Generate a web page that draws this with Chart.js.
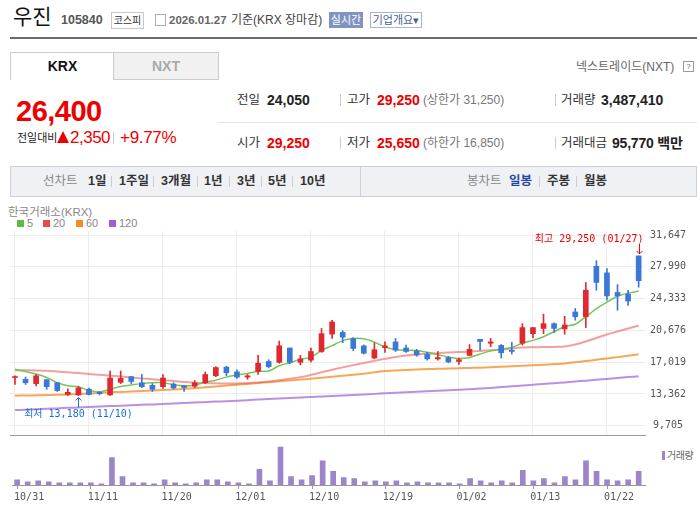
<!DOCTYPE html>
<html lang="ko">
<head>
<meta charset="utf-8">
<script src="https://cdn.jsdelivr.net/npm/chart.js@4.4.1/dist/chart.umd.min.js"></script>
<style>
html,body{margin:0;padding:0;background:#fff;}
body{width:697px;height:505px;position:relative;overflow:hidden;font-family:"Liberation Sans","Noto Sans CJK KR",sans-serif;color:#333;}
.a{position:absolute;white-space:nowrap;}
.lbl{font-size:12.5px;line-height:16px;color:#333;}
.val{font-size:14px;line-height:16px;font-weight:bold;color:#222;}
.red{color:#ee0000;}
.sub{font-size:12px;line-height:16px;color:#777;}
.vs{position:absolute;width:1px;height:12px;background:#ccc;}
.nav{font-size:12.5px;line-height:16px;font-weight:bold;color:#333;top:173px;}
.ns{position:absolute;width:1px;height:11px;background:#ccc;top:176px;}
.lg{font-size:11px;line-height:12px;color:#888;top:217px;}
.sq{position:absolute;width:7px;height:7px;top:220px;}
canvas{position:absolute;left:0;}
</style>
</head>
<body>
<!-- header -->
<div class="a" style="left:13px;top:3px;font-size:21px;line-height:28px;color:#111;">우진</div>
<div class="a" style="left:61px;top:12px;font-size:12.5px;line-height:16px;font-weight:bold;color:#555;">105840</div>
<div class="a" style="left:111px;top:12px;width:31px;height:15px;border:1px solid #c8c8c8;font-size:10px;line-height:15px;text-align:center;color:#333;">코스피</div>
<div class="a" style="left:155px;top:14px;width:9px;height:10px;border:1px solid #b0b0b0;"></div>
<div class="a" style="left:169px;top:12px;font-size:11.5px;line-height:16px;font-weight:bold;color:#666;">2026.01.27</div>
<div class="a" style="left:231px;top:12px;font-size:12px;line-height:16px;color:#444;">기준(KRX 장마감)</div>
<div class="a" style="left:329px;top:12px;width:34px;height:16px;background:#8193c0;color:#fff;font-size:11px;line-height:16px;text-align:center;">실시간</div>
<div class="a" style="left:370px;top:12px;width:50px;height:14px;border:1px solid #a9b5d6;color:#4a5f95;font-size:11px;line-height:14px;text-align:center;">기업개요▾</div>
<div class="a" style="left:10px;top:37px;width:687px;height:2px;background:#6b6b6b;"></div>

<!-- tabs -->
<div class="a" style="left:10px;top:52px;width:103px;height:27px;border:1px solid #ccc;border-bottom:none;font-size:14px;line-height:26px;font-weight:bold;text-align:center;color:#111;">KRX</div>
<div class="a" style="left:113px;top:52px;width:104px;height:26px;border:1px solid #ccc;background:#f1f1f1;font-size:14px;line-height:26px;font-weight:bold;text-align:center;color:#aaa;">NXT</div>
<div class="a" style="left:576px;top:59px;font-size:12px;line-height:16px;color:#666;">넥스트레이드(NXT)</div>
<div class="a" style="left:683px;top:61px;width:9px;height:9px;border:1px solid #999;font-size:8px;line-height:9px;text-align:center;color:#666;">?</div>

<!-- price -->
<div class="a red" style="left:16px;top:95px;font-size:29px;line-height:32px;font-weight:bold;letter-spacing:-0.5px;">26,400</div>
<div class="a" style="left:17px;top:131px;font-size:11px;line-height:14px;color:#222;">전일대비</div>
<div class="a" style="left:57px;top:131px;width:0;height:0;border-left:6.5px solid transparent;border-right:6.5px solid transparent;border-bottom:12px solid #ee0000;"></div>
<div class="a red" style="left:70px;top:128px;font-size:17px;line-height:20px;letter-spacing:-0.5px;">2,350</div>
<div class="vs" style="left:113px;top:132px;"></div>
<div class="a red" style="left:120px;top:128px;font-size:17px;line-height:20px;letter-spacing:-0.3px;">+9.77%</div>

<!-- info grid -->
<div class="a" style="left:218px;top:122px;width:479px;height:1px;background:#e5e5e5;"></div>
<div class="a lbl" style="left:237px;top:92px;">전일</div>
<div class="a val" style="left:267px;top:92px;">24,050</div>
<div class="vs" style="left:340px;top:94px;"></div>
<div class="a lbl" style="left:347px;top:92px;">고가</div>
<div class="a val red" style="left:377px;top:92px;">29,250</div>
<div class="a sub" style="left:423px;top:92px;">(상한가 31,250)</div>
<div class="vs" style="left:555px;top:94px;"></div>
<div class="a lbl" style="left:561px;top:92px;">거래량</div>
<div class="a val" style="left:601px;top:92px;">3,487,410</div>

<div class="a lbl" style="left:237px;top:135px;">시가</div>
<div class="a val red" style="left:267px;top:135px;">29,250</div>
<div class="vs" style="left:340px;top:137px;"></div>
<div class="a lbl" style="left:347px;top:135px;">저가</div>
<div class="a val red" style="left:377px;top:135px;">25,650</div>
<div class="a sub" style="left:423px;top:135px;">(하한가 16,850)</div>
<div class="vs" style="left:555px;top:137px;"></div>
<div class="a lbl" style="left:561px;top:135px;">거래대금</div>
<div class="a val" style="left:612px;top:135px;letter-spacing:-0.2px;">95,770 백만</div>

<!-- period bar -->
<div class="a" style="left:10px;top:166px;width:685px;height:29px;background:#f0f1f5;border:1px solid #cdd0d8;"></div>
<div class="a" style="left:360px;top:167px;width:1px;height:29px;background:#cdd0d8;"></div>
<div class="a nav" style="left:43px;color:#888;font-weight:normal;">선차트</div>
<div class="a nav" style="left:88px;">1일</div><div class="ns" style="left:111px;"></div>
<div class="a nav" style="left:119px;">1주일</div><div class="ns" style="left:153px;"></div>
<div class="a nav" style="left:161px;">3개월</div><div class="ns" style="left:197px;"></div>
<div class="a nav" style="left:204px;">1년</div><div class="ns" style="left:229px;"></div>
<div class="a nav" style="left:237px;">3년</div><div class="ns" style="left:261px;"></div>
<div class="a nav" style="left:268px;">5년</div><div class="ns" style="left:292px;"></div>
<div class="a nav" style="left:300px;">10년</div>
<div class="a nav" style="left:467px;color:#888;font-weight:normal;">봉차트</div>
<div class="a nav" style="left:509px;color:#1f4aa0;">일봉</div><div class="ns" style="left:539px;"></div>
<div class="a nav" style="left:547px;">주봉</div><div class="ns" style="left:576px;"></div>
<div class="a nav" style="left:584px;">월봉</div>

<!-- chart legend -->
<div class="a" style="left:8px;top:206px;font-size:11.5px;line-height:13px;color:#888;">한국거래소(KRX)</div>
<div id="maLegend"></div>
<div class="a" style="left:662px;top:451px;width:3px;height:9px;background:#9c86c9;"></div>
<div class="a" style="left:667px;top:449px;font-size:10px;line-height:13px;color:#666;letter-spacing:-0.5px;">거래량</div>

<canvas id="price" width="697" height="226" style="top:220px;width:697px;height:226px;"></canvas>
<canvas id="vol" width="697" height="65" style="top:440px;width:697px;height:65px;"></canvas>

<script>
// trading days shown on the chart
const dates = ['10/31','11/03','11/04','11/05','11/06','11/07','11/10','11/11','11/12','11/13',
  '11/14','11/17','11/18','11/19','11/20','11/21','11/24','11/25','11/26','11/27',
  '11/28','12/01','12/02','12/03','12/04','12/05','12/08','12/09','12/10','12/11',
  '12/12','12/15','12/16','12/17','12/18','12/19','12/22','12/23','12/24','12/26',
  '12/29','12/30','01/02','01/05','01/06','01/07','01/08','01/09','01/12','01/13',
  '01/14','01/15','01/16','01/19','01/20','01/21','01/22','01/23','01/26','01/27'];

const opens = [15250,15050,14550,15000,14650,13300,13250,13900,13550,13250,
  14700,15350,14650,14350,14200,14500,14300,14250,14650,15450,
  16450,15900,15300,15950,17100,17000,18650,17000,17250,18250,
  20250,20450,19700,18900,17500,18700,19350,18650,18300,17950,
  17400,17550,17100,17800,19650,19200,18950,18400,19200,20300,
  20900,21450,20850,22800,22250,28050,27300,25050,24850,29250];
const highs = [15450,15300,15600,15050,14700,13950,14250,14050,13650,16000,
  16000,15400,15600,14550,15600,14650,14350,14900,15900,16500,
  16550,16150,15600,17800,17300,19450,18650,17800,18650,20900,
  21850,20650,19850,19000,19250,19350,19750,19000,18500,18150,
  18250,17700,17500,19050,19650,19750,19050,19300,21450,21000,
  22550,21550,22300,23200,26200,28700,27800,25950,25300,29250];
const lows = [14450,14450,14300,13900,13650,13200,13180,13250,13250,13200,
  14550,14550,14100,13650,14000,13950,13650,14100,14550,15350,
  15450,15150,15050,15600,16350,16900,16850,16700,17050,18150,
  19750,19250,18350,17950,17400,18150,18250,18150,17700,17250,
  17250,16950,16750,17750,18400,18800,17500,17950,19000,19800,
  20300,20450,20250,21850,21000,25300,24150,23000,23550,25650];
const closes = [15300,14650,15450,14200,13750,13550,14050,13300,13400,15200,
  15150,14800,14200,13900,15200,14050,14100,14650,15600,16400,
  15800,15300,15450,16900,16500,18900,17000,17400,18250,20300,
  21650,19900,18600,18050,18450,18900,18400,18250,17850,17400,
  17550,17050,17300,18500,19400,19350,18100,18250,21000,21000,
  21450,20900,21300,22250,25300,26200,24650,24650,24050,26400];
const volumes = [1340000,800000,1070000,800000,540000,540000,540000,540000,270000,6970000,
  2150000,540000,540000,270000,1340000,540000,270000,540000,1340000,1340000,
  800000,540000,270000,4020000,1070000,9660000,2150000,1340000,2410000,6170000,
  3490000,1880000,1610000,800000,1070000,800000,1070000,540000,800000,540000,
  540000,540000,270000,1610000,1070000,540000,1070000,540000,3760000,1070000,
  1610000,540000,2150000,1340000,6170000,3490000,1340000,1070000,1340000,3487410];

// moving averages
const ma5 = [16200,15950,15650,15250,14670,14310,14200,13760,13610,13900,
  14220,14380,14550,14650,14650,14430,14280,14370,14710,14940,
  15300,15540,15710,15970,16000,16610,16960,17340,17600,18370,
  18920,19500,19740,19710,19330,18780,18470,18400,18360,18150,
  17880,17610,17430,17550,17960,18320,18520,18710,19210,19530,
  19950,20520,21130,21380,22240,23190,23940,24610,24970,25200];
const ma20 = [16100,16090,16070,16030,15950,15850,15760,15660,15560,15470,
  15360,15250,15150,15050,14950,14850,14750,14660,14610,14580,
  14560,14560,14610,14690,14790,14930,15100,15300,15550,15850,
  16150,16420,16680,16930,17170,17400,17620,17780,17900,17990,
  18060,18120,18180,18230,18300,18400,18480,18600,18700,18730,
  18760,18780,18820,19050,19400,19800,20200,20550,20900,21250];
const ma60 = [13160,13180,13200,13230,13260,13300,13360,13420,13480,13550,
  13600,13650,13700,13760,13820,13880,13950,14030,14120,14220,
  14330,14430,14520,14620,14720,14820,14920,15020,15110,15220,
  15340,15460,15580,15700,15850,16000,16070,16130,16180,16220,
  16260,16290,16320,16350,16390,16430,16480,16540,16600,16660,
  16730,16800,16880,17000,17150,17300,17450,17600,17770,17940];
const ma120 = [11500,11550,11600,11650,11700,11760,11810,11860,11910,11960,
  12010,12060,12110,12160,12210,12260,12320,12370,12420,12480,
  12530,12590,12650,12710,12770,12830,12890,12950,13010,13070,
  13130,13190,13250,13310,13370,13430,13490,13550,13610,13670,
  13720,13780,13840,13900,13980,14060,14150,14240,14330,14420,
  14510,14600,14690,14790,14890,14990,15090,15190,15300,15410];

const maNames  = ['5','20','60','120'];
const maColors = ['#5cb947','#e84b4b','#f28c28','#9d5fd3'];
const maLines  = ['rgba(110,195,80,0.95)','rgba(235,95,95,0.6)','rgba(245,145,45,0.8)','rgba(165,105,215,0.75)'];

const xTickIdx = [0,7,14,21,28,35,42,49,56];
const yTicks = [9705,13362,17019,20676,24333,27990,31647];

const upColor = '#e0282e', downColor = '#3a78d8';
const candleColors = closes.map((c, i) => c >= opens[i] ? upColor : downColor);
const idx = dates.map((d, i) => i);
const fmt = v => v.toLocaleString('en-US');
const monoFont = {family: '"DejaVu Sans Mono", monospace', size: 10};

// html legend for the moving averages
const legendX = [17, 43, 76, 109];
document.getElementById('maLegend').innerHTML = maNames.map((n, k) =>
  '<div class="sq" style="left:' + legendX[k] + 'px;background:' + maColors[k] + ';"></div>' +
  '<div class="a lg" style="left:' + (legendX[k] + 10) + 'px;">' + n + '</div>').join('');

const xMin = -0.47, xMax = 59.6;

// high / low markers
const markPlugin = {
  id: 'marks',
  afterDatasetsDraw(chart) {
    const {ctx, scales: {x, y}} = chart;
    const hi = highs.indexOf(Math.max(...highs));
    const lo = lows.indexOf(Math.min(...lows));
    ctx.save();
    ctx.font = '10px "DejaVu Sans Mono", "Noto Sans CJK KR", monospace';
    ctx.lineWidth = 1;

    let px = Math.round(x.getPixelForValue(hi)) + 0.5, py = y.getPixelForValue(highs[hi]);
    ctx.strokeStyle = ctx.fillStyle = '#f00000';
    ctx.beginPath();
    ctx.moveTo(px, py - 12); ctx.lineTo(px, py - 2);
    ctx.moveTo(px - 3, py - 5); ctx.lineTo(px, py - 2); ctx.lineTo(px + 3, py - 5);
    ctx.stroke();
    ctx.textAlign = 'right'; ctx.textBaseline = 'bottom';
    ctx.fillText('최고 ' + fmt(highs[hi]) + ' (' + dates[hi] + ')', px + 4, py - 12);

    px = Math.round(x.getPixelForValue(lo)) + 0.5; py = y.getPixelForValue(lows[lo]);
    ctx.strokeStyle = ctx.fillStyle = '#1a6fd6';
    ctx.beginPath();
    ctx.moveTo(px, py + 2); ctx.lineTo(px, py + 12);
    ctx.moveTo(px - 3, py + 5); ctx.lineTo(px, py + 2); ctx.lineTo(px + 3, py + 5);
    ctx.stroke();
    ctx.textAlign = 'center'; ctx.textBaseline = 'top';
    ctx.fillText('최저 ' + fmt(lows[lo]) + ' (' + dates[lo] + ')', px, py + 14);
    ctx.restore();
  }
};

const maSets = [ma5, ma20, ma60, ma120].map((arr, k) => ({
  type: 'line',
  label: maNames[k],
  data: idx.map(i => ({x: i, y: arr[i]})),
  borderColor: maLines[k],
  borderWidth: k === 0 ? 1.5 : 2,
  pointRadius: 0,
  tension: 0.25,
  order: 1
}));

new Chart(document.getElementById('price'), {
  type: 'bar',
  data: {
    datasets: [
      {label: 'wick', data: idx.map(i => ({x: i, y: [lows[i], highs[i]]})),
       backgroundColor: candleColors, barThickness: 1, grouped: false, order: 0},
      {label: 'body', data: idx.map(i => ({x: i, y: [opens[i], closes[i]]})),
       backgroundColor: candleColors, barThickness: 5, grouped: false, minBarLength: 1, order: 0},
      ...maSets
    ]
  },
  options: {
    responsive: false,
    animation: false,
    layout: {padding: {left: 10, top: 9, right: 0, bottom: 4}},
    plugins: {legend: {display: false}, tooltip: {enabled: false}},
    scales: {
      x: {
        type: 'linear', min: xMin, max: xMax, offset: false,
        afterBuildTicks: s => { s.ticks = xTickIdx.map(v => ({value: v})); },
        ticks: {display: false},
        grid: {color: '#ececec', drawTicks: false, offset: false},
        border: {color: '#999'}
      },
      y: {
        position: 'right', min: 8636, max: 32119,
        afterBuildTicks: s => { s.ticks = yTicks.map(v => ({value: v})); },
        afterFit: s => { s.width = 52; },
        ticks: {font: monoFont, color: '#555', padding: 5, crossAlign: 'center', callback: v => fmt(v)},
        grid: {color: '#ececec', drawTicks: false},
        border: {display: false}
      }
    }
  },
  plugins: [markPlugin]
});

new Chart(document.getElementById('vol'), {
  type: 'bar',
  data: {
    datasets: [{label: '거래량', data: idx.map(i => ({x: i, y: volumes[i]})),
      backgroundColor: '#9c86c9', barThickness: 5}]
  },
  options: {
    responsive: false,
    animation: false,
    layout: {padding: {left: 10, top: 4, right: 52, bottom: 0}},
    plugins: {legend: {display: false}, tooltip: {enabled: false}},
    scales: {
      x: {
        type: 'linear', min: xMin, max: xMax, offset: false,
        afterBuildTicks: s => { s.ticks = xTickIdx.map(v => ({value: v})); },
        ticks: {font: monoFont, color: '#555', autoSkip: false, maxRotation: 0,
          labelOffset: 12, padding: 2, callback: v => dates[v]},
        grid: {drawOnChartArea: false, drawTicks: true, tickLength: 4, color: '#999', offset: false},
        border: {color: '#999'}
      },
      y: {display: false, min: 0, max: 10440000}
    }
  }
});
</script>
</body>
</html>
